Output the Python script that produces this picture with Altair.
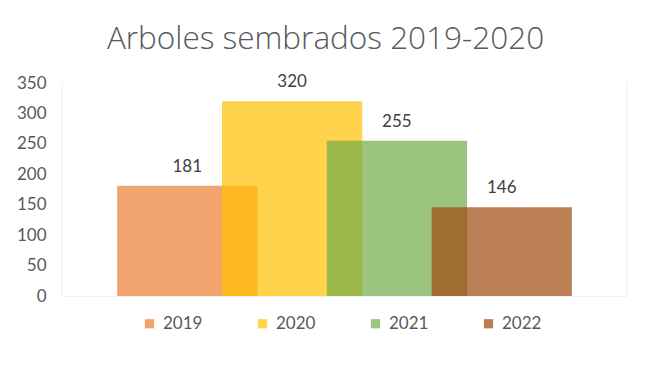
import altair as alt
import pandas as pd

years = ["2019", "2020", "2021", "2022"]
trees = [181, 320, 255, 146]
colors = ["#ED7D31", "#FFC000", "#70AD47", "#9E480E"]
ticks = [0, 50, 100, 150, 200, 250, 300, 350]

df = pd.DataFrame({"year": years, "trees": trees})

FONT = "Lato"
TXT = "#595959"

xenc = alt.X("year:N", sort=years,
             scale=alt.Scale(paddingInner=0, paddingOuter=0.695),
             axis=alt.Axis(labels=False, ticks=False, title=None,
                           domain=True, domainColor="#F0F0F0", domainWidth=1))
yenc = alt.Y("trees:Q", scale=alt.Scale(domain=[0, 350]),
             axis=alt.Axis(values=ticks, tickCount=8,
                           ticks=False, domain=False, grid=False, title=None,
                           labelFont=FONT, labelFontSize=17, labelColor=TXT,
                           labelOverlap=False, labelPadding=16))

base = alt.Chart(df).encode(x=xenc, y=yenc)

bars = base.mark_bar(width=alt.RelativeBandSize(1.338), opacity=0.7).encode(
    color=alt.Color("year:N", sort=years,
                    scale=alt.Scale(domain=years, range=colors),
                    legend=alt.Legend(orient="none", legendX=79, legendY=232,
                                      direction="horizontal",
                                      title=None, symbolType="square",
                                      symbolSize=85, symbolOpacity=0.7,
                                      labelFont=FONT, labelFontSize=17,
                                      labelColor=TXT, columnPadding=51,
                                      labelOffset=5, padding=0,
                                      symbolStrokeWidth=0)),
)

labels = base.mark_text(dy=-19, font=FONT, fontSize=17, color="#404040").encode(
    text="trees:Q")

edge_r = alt.Chart(pd.DataFrame({"v": [0]})).mark_rule(color="#EFEFEF", strokeWidth=1).encode(
    x=alt.value(565), y=alt.value(0), y2=alt.value(213))
edge_l = alt.Chart(pd.DataFrame({"v": [0]})).mark_rule(color="#EFEFEF", strokeWidth=1).encode(
    x=alt.value(0), y=alt.value(0), y2=alt.value(213))

chart = (bars + labels + edge_r + edge_l).properties(
    width=565, height=213,
    autosize=alt.AutoSizeParams(type="none"),
    padding={"left": 54, "top": 75, "right": 14, "bottom": 64},
    title=alt.TitleParams("Arboles sembrados 2019-2020", font="Open Sans", fontSize=31.5,
                          fontWeight=300, color=TXT, offset=18, dx=-19,
                          anchor="middle"),
).configure_view(stroke=None).configure_axisY(domain=False)

chart.save("out.html", embed_options={"renderer": "svg", "actions": False})
